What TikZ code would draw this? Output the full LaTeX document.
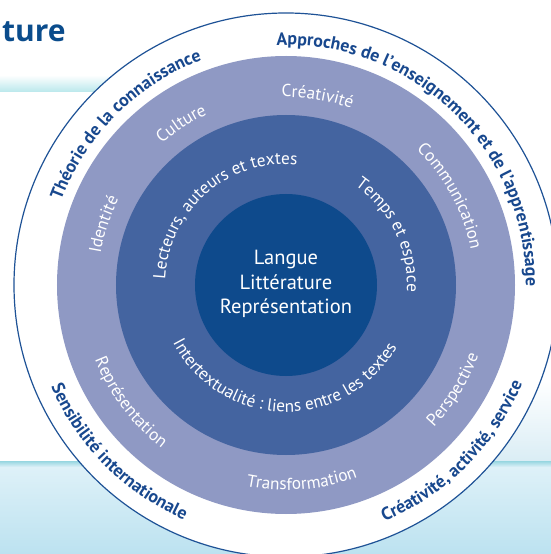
\documentclass[tikz,border=0pt]{standalone}
\usepackage{fontspec}
\setmainfont{PT Sans}
\newfontfamily\titlefont{Open Sans}
\usetikzlibrary{decorations.text}

\definecolor{kernblue}{RGB}{14,74,140}
\definecolor{midblue}{RGB}{68,100,160}
\definecolor{ringblue}{RGB}{143,153,196}
\definecolor{lineblue}{RGB}{30,82,150}
\definecolor{textblue}{RGB}{24,72,142}
\definecolor{titleblue}{RGB}{10,76,140}
\definecolor{bandcyan}{RGB}{186,232,236}
\definecolor{bottomcyan}{RGB}{150,214,224}
\definecolor{palewhite}{RGB}{222,241,248}
\definecolor{skyblue}{RGB}{188,226,240}
\definecolor{palesky}{RGB}{218,237,245}

\newcommand{\outerfont}{\fontsize{17.8}{20}\selectfont\bfseries\color{textblue}}
\newcommand{\ringfont}{\fontsize{17.3}{20}\selectfont\color{white}}

% text centred on angle #1 at radius #2, read clockwise (top) or anticlockwise (bottom)
\newcommand{\toparc}[4]{\path[decorate, decoration={text along path, text align=center, text={|#3|#4}}]
  (#1+85:#2) arc[start angle=#1+85, end angle=#1-85, radius=#2];}
\newcommand{\botarc}[4]{\path[decorate, decoration={text along path, text align=center, text={|#3|#4}}]
  (#1-85:#2) arc[start angle=#1-85, end angle=#1+85, radius=#2];}

\begin{document}
\begin{tikzpicture}[x=1pt, y=1pt]
    \useasboundingbox (-286,-269) rectangle (265,285);
    \coordinate (C) at (0,0);
    % background
    \shade[top color=white, bottom color=bandcyan] (-286,210) rectangle (0,193);
    \shade[top color=white, bottom color=palesky] (150,-95) rectangle (265,-176);
    \shade[top color=bottomcyan, bottom color=palewhite] (-286,-176) rectangle (265,-182);
    \shade[top color=palewhite, bottom color=skyblue] (-286,-182) rectangle (265,-269);
    \node[anchor=base west, inner sep=0pt, text=titleblue, font=\titlefont\fontsize{30}{32}\selectfont\bfseries] (title) at (-284,243) {ture};
    % rings
    \fill[white] (C) circle[radius=272pt];
    \draw[lineblue, line width=1.2pt] (C) circle[radius=272pt];
    \fill[ringblue] (C) circle[radius=229pt];
    \fill[midblue] (C) circle[radius=170pt];
    \fill[kernblue] (C) circle[radius=91pt];
    \node[align=center, text=white, font=\fontsize{20.5}{24.5}\selectfont] (kern) at (0,1) {Langue\\Littérature\\Représentation};
    % outer band
    \toparc{135}{240pt}{\outerfont}{Théorie de la connaissance}
    \toparc{46}{240pt}{\outerfont}{Approches de l’enseignement et de l’apprentissage}
    \botarc{225}{256pt}{\outerfont}{Sensibilité internationale}
    \botarc{-45}{256pt}{\outerfont}{Créativité, activité, service}
    % light ring
    \toparc{80.5}{188pt}{\ringfont}{Créativité}
    \toparc{123}{188pt}{\ringfont}{Culture}
    \toparc{161.6}{188pt}{\ringfont}{Identité}
    \toparc{28.4}{188pt}{\ringfont}{Communication}
    \botarc{-32}{205pt}{\ringfont}{Perspective}
    \botarc{-85.4}{205pt}{\ringfont}{Transformation}
    \botarc{217}{205pt}{\ringfont}{Représentation}
    % middle ring
    \toparc{131}{121pt}{\ringfont}{Lecteurs, auteurs et textes}
    \toparc{26}{121pt}{\ringfont}{Temps et espace}
    \botarc{269}{127pt}{\ringfont}{Intertextualité : liens entre les textes}
\end{tikzpicture}
\end{document}
